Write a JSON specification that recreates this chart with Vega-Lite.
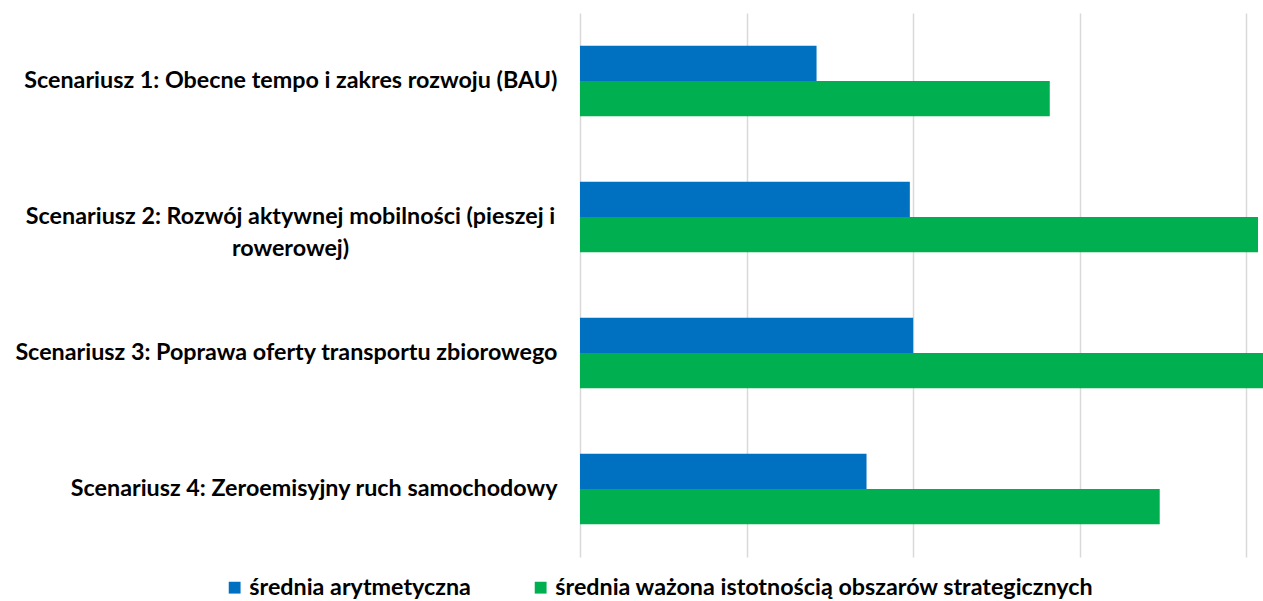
{
  "$schema": "https://vega.github.io/schema/vega-lite/v6.json",
  "width": 683,
  "height": 544,
  "autosize": "none",
  "padding": {"left": 580, "top": 13, "right": 0, "bottom": 44},
  "background": "white",
  "config": {"view": {"stroke": null}, "font": "Lato"},
  "data": {
    "values": [
      {"scenario": "Scenariusz 1: Obecne tempo i zakres rozwoju (BAU)", "series": "średnia arytmetyczna", "value": 1.42},
      {"scenario": "Scenariusz 1: Obecne tempo i zakres rozwoju (BAU)", "series": "średnia ważona istotnością obszarów strategicznych", "value": 2.82},
      {"scenario": "Scenariusz 2: Rozwój aktywnej mobilności (pieszej i rowerowej)", "series": "średnia arytmetyczna", "value": 1.98},
      {"scenario": "Scenariusz 2: Rozwój aktywnej mobilności (pieszej i rowerowej)", "series": "średnia ważona istotnością obszarów strategicznych", "value": 4.07},
      {"scenario": "Scenariusz 3: Poprawa oferty transportu zbiorowego", "series": "średnia arytmetyczna", "value": 2.0},
      {"scenario": "Scenariusz 3: Poprawa oferty transportu zbiorowego", "series": "średnia ważona istotnością obszarów strategicznych", "value": 4.15},
      {"scenario": "Scenariusz 4: Zeroemisyjny ruch samochodowy", "series": "średnia arytmetyczna", "value": 1.72},
      {"scenario": "Scenariusz 4: Zeroemisyjny ruch samochodowy", "series": "średnia ważona istotnością obszarów strategicznych", "value": 3.48}
    ]
  },
  "mark": {"type": "bar", "clip": true},
  "encoding": {
    "y": {
      "field": "scenario",
      "type": "nominal",
      "sort": null,
      "scale": {"paddingInner": 0.48, "paddingOuter": 0.24},
      "axis": {
        "title": null,
        "domain": false,
        "ticks": false,
        "labelFont": "Lato",
        "labelFontWeight": "bold",
        "labelFontSize": 23.3,
        "labelColor": "#000000",
        "labelLimit": 600,
        "labelLineHeight": 32,
        "labelExpr": "indexof(datum.value, 'Scenariusz 2') == 0 ? ['Scenariusz 2: Rozwój aktywnej mobilności (pieszej i', 'rowerowej)'] : datum.value",
        "labelAlign": {"condition": {"test": "indexof(datum.value, 'Scenariusz 2') == 0", "value": "center"}, "value": "right"},
        "labelPadding": {"condition": {"test": "indexof(datum.value, 'Scenariusz 2') == 0", "value": 290}, "value": 23}
      }
    },
    "yOffset": {"field": "series", "type": "nominal", "sort": ["średnia arytmetyczna", "średnia ważona istotnością obszarów strategicznych"]},
    "x": {
      "field": "value",
      "type": "quantitative",
      "scale": {"domain": [0, 4.1], "nice": false, "zero": true},
      "axis": {
        "title": null,
        "labels": false,
        "ticks": false,
        "domain": false,
        "grid": true,
        "gridColor": "#d9d9d9",
        "gridWidth": 1.5,
        "values": [0, 1, 2, 3, 4]
      }
    },
    "color": {
      "field": "series",
      "type": "nominal",
      "sort": ["średnia arytmetyczna", "średnia ważona istotnością obszarów strategicznych"],
      "scale": {"range": ["#0070C0", "#00B050"]},
      "legend": {
        "title": null,
        "orient": "none",
        "direction": "horizontal",
        "legendX": -357,
        "legendY": 563,
        "symbolType": "square",
        "symbolSize": 140,
        "symbolStrokeWidth": 0,
        "labelFont": "Lato",
        "labelFontWeight": "bold",
        "labelFontSize": 23.3,
        "labelColor": "#000000",
        "labelLimit": 800,
        "columnPadding": 58,
        "symbolOffset": 0,
        "labelOffset": 3
      }
    }
  }
}
